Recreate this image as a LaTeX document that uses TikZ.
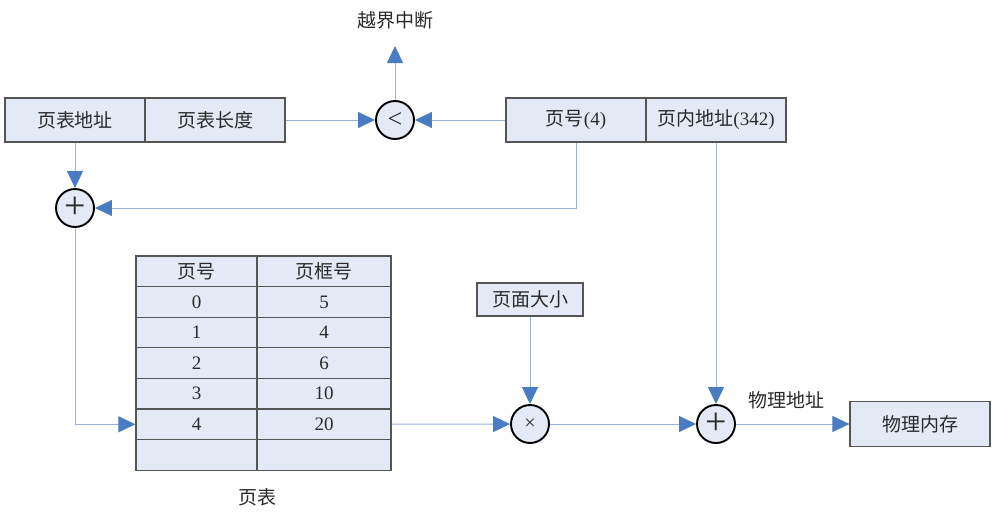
\documentclass[tikz,border=0pt]{standalone}
\usepackage{fontspec}
\setmainfont{Liberation Serif}
\newfontfamily\cjk{Noto Sans CJK SC}
\usetikzlibrary{arrows.meta,positioning,calc}
\definecolor{boxfill}{HTML}{E4EAF5}
\definecolor{boxline}{HTML}{555555}
\definecolor{linkblue}{HTML}{95B3D7}
\definecolor{tipblue}{HTML}{4A7CC4}
\definecolor{txt}{HTML}{2A2A2A}

\begin{document}
\begin{tikzpicture}[x=1pt,y=-1pt,font=\fontsize{19}{21}\selectfont,
  box/.style={draw=boxline,fill=boxfill,line width=1.2pt,minimum height=44pt,minimum width=140pt,inner sep=0pt,text=txt},
  cell/.style={draw=boxline,fill=boxfill,line width=1.2pt,minimum height=30.6pt,inner sep=0pt,text=txt},
  op/.style={circle,draw=black,fill=boxfill,line width=1.9pt,minimum size=38pt,inner sep=0pt,text=txt},
  link/.style={draw=linkblue,line width=1pt,-{Triangle[length=17pt,width=16pt,color=tipblue]}}]
\useasboundingbox (0,0) rectangle (994,517);
\node[box] (ptaddr) at (75,120) {\cjk 页表地址};
\node[box] (ptlen) at (215,120) {\cjk 页表长度};
\node[box] (pnum) at (576,120) {{\cjk 页号}(4)};
\node[box] (offs) at (716,120) {{\cjk 页内地址}(342)};
\node[op,font=\fontsize{26}{26}\selectfont] (cmp) at (395,120) {<};
\coordinate (alarm) at (395,46);
\node[text=txt] (alarmtxt) at (395,20) {\cjk 越界中断};
\node[op,font=\fontsize{38}{38}\selectfont] (add1) at (75,208) {+};
% page table
\foreach \i/\a/\b in {0/{\cjk 页号}/{\cjk 页框号},1/0/5,2/1/4,3/2/6,4/3/10,5/4/20,6//}{
  \node[cell,minimum width=121pt] (pa\i) at (196.5,{256+30.6*(\i+0.5)}) {\a};
  \node[cell,minimum width=134pt] (pb\i) at (324,{256+30.6*(\i+0.5)}) {\b};
}
\node[text=txt] (ptname) at (257,497) {\cjk 页表};
\node[box,minimum width=106pt,minimum height=33pt] (psize) at (530,299.5) {\cjk 页面大小};
\node[op,font=\fontsize{20}{20}\selectfont] (mul) at (530,424) {×};
\node[op,font=\fontsize{38}{38}\selectfont] (add2) at (716,424) {+};
\node[box,minimum height=45pt] (mem) at (920,424) {\cjk 物理内存};
\node[text=txt] (paddr) at (786,400) {\cjk 物理地址};
% connectors
\draw[link] (ptlen) -- (cmp);
\draw[link] (pnum) -- (cmp);
\draw[link] (cmp) -- (alarm);
\draw[link] (ptaddr) -- (add1);
\draw[link] (pnum.south) |- (add1);
\draw[link] (add1) |- (pa5);
\draw[link] (pb5) -- (mul);
\draw[link] (psize) -- (mul);
\draw[link] (mul) -- (add2);
\draw[link] (offs) -- (add2);
\draw[link] (add2) -- (mem);
\end{tikzpicture}
\end{document}
